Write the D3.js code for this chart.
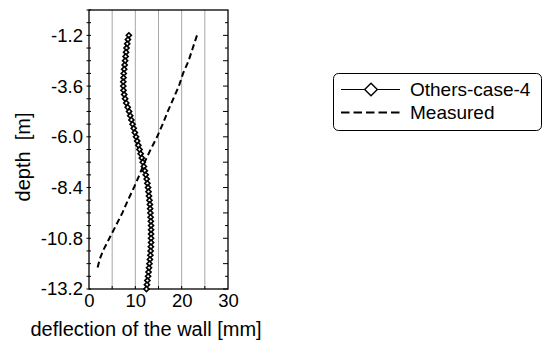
<!DOCTYPE html>
<html>
<head>
<meta charset="utf-8">
<script src="https://cdn.jsdelivr.net/npm/d3@7"></script>
<style>
  html, body { margin: 0; padding: 0; background: #fff; }
  svg { display: block; font-family: "Liberation Sans", Arial, Helvetica, sans-serif; }
</style>
</head>
<body>
<svg id="chart" width="545" height="340"></svg>
<script>
// Wall deflection profiles: computed (Others-case-4) and measured
const caseDepth = [-1.2, -1.4, -1.6, -1.8, -2.0, -2.2, -2.4, -2.6, -2.8, -3.0,
  -3.2, -3.4, -3.6, -3.8, -4.0, -4.2, -4.4, -4.6, -4.8, -5.0,
  -5.2, -5.4, -5.6, -5.8, -6.0, -6.2, -6.4, -6.6, -6.8, -7.0,
  -7.2, -7.4, -7.6, -7.8, -8.0, -8.2, -8.4, -8.6, -8.8, -9.0,
  -9.2, -9.4, -9.6, -9.8, -10.0, -10.2, -10.4, -10.6, -10.8, -11.0,
  -11.2, -11.4, -11.6, -11.8, -12.0, -12.2, -12.4, -12.6, -12.8, -13.0, -13.2];
const caseDeflection = [8.6, 8.4, 8.25, 8.1, 8.0, 7.9, 7.8, 7.7, 7.6, 7.5,
  7.45, 7.4, 7.4, 7.45, 7.6, 7.8, 8.05, 8.35, 8.65, 8.9,
  9.15, 9.4, 9.65, 9.9, 10.15, 10.4, 10.65, 10.9, 11.15, 11.4,
  11.6, 11.85, 12.05, 12.25, 12.45, 12.6, 12.75, 12.85, 12.95, 13.05,
  13.15, 13.2, 13.25, 13.3, 13.35, 13.4, 13.4, 13.4, 13.4, 13.4,
  13.35, 13.3, 13.25, 13.15, 13.05, 12.95, 12.85, 12.75, 12.6, 12.5, 12.4];

const measuredDepth = [-1.2, -1.8, -2.4, -3.0, -3.6, -4.2, -4.8, -5.4, -6.0, -6.6,
  -7.2, -7.8, -8.4, -9.0, -9.6, -10.2, -10.8, -11.4, -11.8, -12.2];
const measuredDeflection = [23.3, 22.4, 21.5, 20.3, 19.4, 18.2, 17.0, 15.9, 14.7, 13.3,
  12.0, 10.9, 9.7, 8.4, 7.2, 5.8, 4.4, 3.0, 2.3, 1.85];

const xTicks = [0, 10, 20, 30];
const xGrid = [5, 10, 15, 20, 25];
const yLabelTicks = [-1.2, -3.6, -6.0, -8.4, -10.8, -13.2];
const yMajorTicks = [-1.2, -2.4, -3.6, -4.8, -6.0, -7.2, -8.4, -9.6, -10.8, -12.0, -13.2];
const yMinorTicks = [-0.6, -1.8, -3.0, -4.2, -5.4, -6.6, -7.8, -9.0, -10.2, -11.4, -12.6];

const seriesNames = ["Others-case-4", "Measured"];

const svg = d3.select("#chart");
const plot = { left: 89, right: 228, top: 10, bottom: 289 };

const x = d3.scaleLinear().domain([0, 30]).range([plot.left, plot.right]);
const y = d3.scaleLinear().domain([0, -13.2]).range([plot.top, plot.bottom]);

// plain hyphen for negative labels
const fmtDepth = d => d.toFixed(1);

// vertical grid lines
svg.append("g").selectAll("line").data(xGrid).join("line")
  .attr("x1", d => x(d)).attr("x2", d => x(d))
  .attr("y1", plot.top).attr("y2", plot.bottom)
  .attr("stroke", "#a8a8a8").attr("stroke-width", 1);

// left axis: small ticks across the spine, labels every 2.4 m
const leftAxis = d3.axisLeft(y)
  .tickValues(yLabelTicks)
  .tickFormat(fmtDepth)
  .tickSize(0).tickPadding(6);
const gl = svg.append("g").attr("transform", `translate(${plot.left},0)`).call(leftAxis);
gl.select(".domain").remove();
gl.selectAll("text").attr("font-size", 18.5).attr("fill", "#000")
  .attr("font-family", "Liberation Sans, Arial, sans-serif");
svg.append("g").selectAll("line").data(yMajorTicks.concat(yMinorTicks, [0])).join("line")
  .attr("x1", plot.left - 2.5).attr("x2", plot.left + 2)
  .attr("y1", d => y(d)).attr("y2", d => y(d))
  .attr("stroke", "#000").attr("stroke-width", 1);

// right side inner ticks: long at 1.2 m, short at 0.6 m offsets
svg.append("g").selectAll("line").data(yMajorTicks).join("line")
  .attr("x1", plot.right - 5).attr("x2", plot.right)
  .attr("y1", d => y(d)).attr("y2", d => y(d))
  .attr("stroke", "#000").attr("stroke-width", 1);
svg.append("g").selectAll("line").data(yMinorTicks).join("line")
  .attr("x1", plot.right - 3).attr("x2", plot.right)
  .attr("y1", d => y(d)).attr("y2", d => y(d))
  .attr("stroke", "#000").attr("stroke-width", 1);

// bottom axis with inner ticks every 5 mm
const bottomAxis = d3.axisBottom(x).tickValues(xTicks).tickFormat(d3.format("d"))
  .tickSize(0).tickPadding(5);
const gb = svg.append("g").attr("transform", `translate(0,${plot.bottom})`).call(bottomAxis);
gb.select(".domain").remove();
gb.selectAll("text").attr("font-size", 18.5).attr("fill", "#000")
  .attr("font-family", "Liberation Sans, Arial, sans-serif");
svg.append("g").selectAll("line").data(xGrid).join("line")
  .attr("x1", d => x(d)).attr("x2", d => x(d))
  .attr("y1", plot.bottom - 3).attr("y2", plot.bottom)
  .attr("stroke", "#000").attr("stroke-width", 1);

// plot frame
svg.append("rect")
  .attr("x", plot.left).attr("y", plot.top)
  .attr("width", plot.right - plot.left).attr("height", plot.bottom - plot.top)
  .attr("fill", "none").attr("stroke", "#000").attr("stroke-width", 1.3);

// measured profile (dashed)
const measured = measuredDepth.map((d, i) => [measuredDeflection[i], d]);
const line = d3.line().x(d => x(d[0])).y(d => y(d[1]));
svg.append("path").datum(measured)
  .attr("d", line)
  .attr("fill", "none").attr("stroke", "#000")
  .attr("stroke-width", 2).attr("stroke-dasharray", "6,3.5");

// computed profile: thin line with tightly packed diamond markers
const computed = caseDepth.map((d, i) => [caseDeflection[i], d]);
svg.append("path").datum(computed)
  .attr("d", line)
  .attr("fill", "none").attr("stroke", "#000").attr("stroke-width", 1);
const diamond = d3.symbol().type(d3.symbolSquare).size(13);
svg.append("g").selectAll("path").data(computed).join("path")
  .attr("d", diamond)
  .attr("transform", d => `translate(${x(d[0])},${y(d[1])}) rotate(45)`)
  .attr("fill", "#fff").attr("stroke", "#000").attr("stroke-width", 1.6);

// axis titles
svg.append("text")
  .attr("x", 146).attr("y", 336)
  .attr("text-anchor", "middle").attr("font-size", 20).attr("fill", "#000")
  .text("deflection of the wall [mm]");
svg.append("text")
  .attr("transform", "translate(30,157) rotate(-90)")
  .attr("text-anchor", "middle").attr("font-size", 20).attr("fill", "#000")
  .attr("xml:space", "preserve")
  .text("depth  [m]");

// legend
const legend = svg.append("g");
legend.append("rect")
  .attr("x", 333.5).attr("y", 73.5).attr("width", 208).attr("height", 57)
  .attr("rx", 5).attr("ry", 5)
  .attr("fill", "#fff").attr("stroke", "#000").attr("stroke-width", 1);
const rows = [89.5, 112.5];
legend.append("line")
  .attr("x1", 341).attr("x2", 400).attr("y1", rows[0]).attr("y2", rows[0])
  .attr("stroke", "#000").attr("stroke-width", 1);
legend.append("path")
  .attr("d", d3.symbol().type(d3.symbolSquare).size(80))
  .attr("transform", `translate(371,${rows[0]}) rotate(45)`)
  .attr("fill", "#fff").attr("stroke", "#000").attr("stroke-width", 1.4);
legend.append("line")
  .attr("x1", 341).attr("x2", 400).attr("y1", rows[1]).attr("y2", rows[1])
  .attr("stroke", "#000").attr("stroke-width", 2).attr("stroke-dasharray", "8.5,4");
legend.selectAll("text.lab").data(seriesNames).join("text")
  .attr("class", "lab")
  .attr("x", 410).attr("y", (d, i) => rows[i])
  .attr("dy", "0.35em").attr("font-size", 19).attr("fill", "#000")
  .text(d => d);
</script>
</body>
</html>
